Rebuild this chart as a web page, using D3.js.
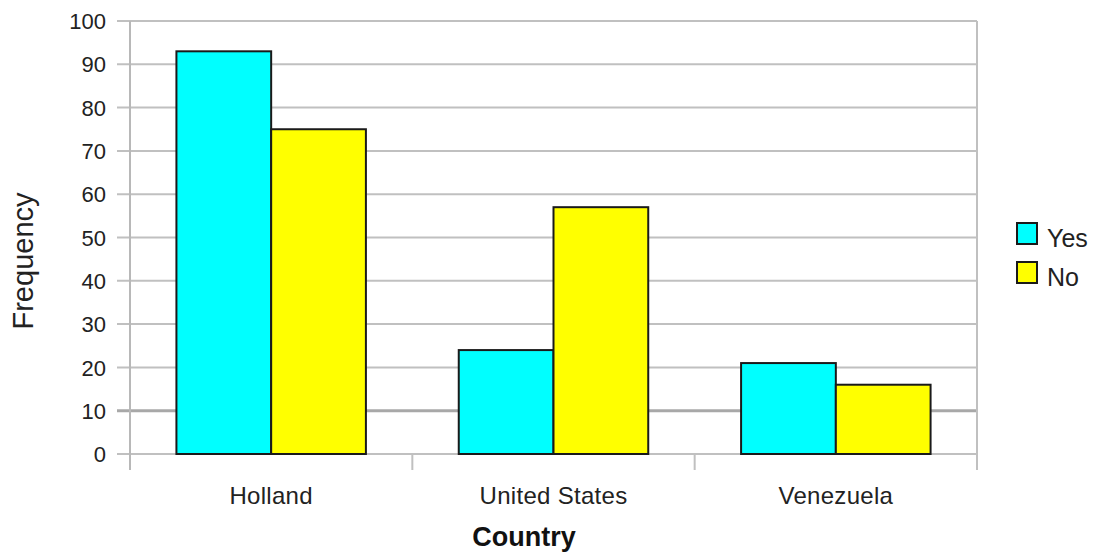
<!DOCTYPE html>
<html>
<head>
<meta charset="utf-8">
<script src="https://cdn.jsdelivr.net/npm/d3@7"></script>
<style>
  html, body { margin: 0; padding: 0; background: #fff; }
  svg { display: block; font-family: "Liberation Sans", Arial, sans-serif; }
</style>
</head>
<body>
<svg id="chart" width="1095" height="553"></svg>
<script>
const categories = ["Holland", "United States", "Venezuela"];
const seriesNames = ["Yes", "No"];
const yesValues = [93, 24, 21];
const noValues = [75, 57, 16];
const yTicks = [0, 10, 20, 30, 40, 50, 60, 70, 80, 90, 100];
const colors = ["#00ffff", "#ffff00"];

const svg = d3.select("#chart");
const plotLeft = 130, plotRight = 977, plotTop = 21, plotBottom = 454;

const x0 = d3.scaleBand().domain(categories).range([plotLeft, plotRight]).padding(0);
const x1 = d3.scaleBand().domain(seriesNames).range([0, x0.bandwidth()]).paddingInner(0).paddingOuter(0.49);
const y = d3.scaleLinear().domain([0, 100]).range([plotBottom, plotTop]);

// gridlines
svg.append("g").selectAll("line").data(yTicks).join("line")
  .attr("x1", plotLeft - 13).attr("x2", plotRight)
  .attr("y1", d => y(d)).attr("y2", d => y(d))
  .attr("stroke", d => d === 10 ? "#a8a8a8" : "#c0c0c0")
  .attr("stroke-width", d => d === 10 ? 3 : 2);

// right border
svg.append("line").attr("x1", plotRight).attr("x2", plotRight).attr("y1", plotTop).attr("y2", plotBottom + 16)
  .attr("stroke", "#c0c0c0").attr("stroke-width", 2);
// left axis
svg.append("line").attr("x1", plotLeft).attr("x2", plotLeft).attr("y1", plotTop).attr("y2", plotBottom + 16)
  .attr("stroke", "#b8b8b8").attr("stroke-width", 2);

// x category boundary ticks
const boundaries = categories.slice(1).map(c => x0(c));
svg.append("g").selectAll("line").data(boundaries).join("line")
  .attr("x1", d => d).attr("x2", d => d).attr("y1", plotBottom).attr("y2", plotBottom + 16)
  .attr("stroke", "#c0c0c0").attr("stroke-width", 2);

// y tick labels
svg.append("g").selectAll("text").data(yTicks).join("text")
  .attr("x", plotLeft - 24).attr("y", d => y(d)).attr("dy", "0.37em")
  .attr("text-anchor", "end").attr("font-size", 22).attr("fill", "#222")
  .text(d => d);

// bars
const rows = categories.map((c, i) => ({ cat: c, vals: [yesValues[i], noValues[i]] }));
const groups = svg.append("g").selectAll("g").data(rows).join("g")
  .attr("transform", d => `translate(${x0(d.cat)},0)`);
groups.selectAll("rect").data(d => d.vals.map((v, j) => ({ key: seriesNames[j], v, j })))
  .join("rect")
  .attr("x", d => x1(d.key)).attr("width", x1.bandwidth())
  .attr("y", d => y(d.v)).attr("height", d => plotBottom - y(d.v))
  .attr("fill", d => colors[d.j]).attr("stroke", "#1a1a1a").attr("stroke-width", 2);

// category labels
svg.append("g").selectAll("text").data(categories).join("text")
  .attr("x", d => x0(d) + x0.bandwidth() / 2).attr("y", 504)
  .attr("text-anchor", "middle").attr("font-size", 24).attr("letter-spacing", 0.3).attr("fill", "#222")
  .text(d => d);

// axis titles
svg.append("text").attr("x", 524).attr("y", 546).attr("text-anchor", "middle")
  .attr("font-size", 27).attr("font-weight", "bold").attr("fill", "#111").text("Country");
svg.append("text").attr("transform", "translate(33,261) rotate(-90)").attr("text-anchor", "middle")
  .attr("font-size", 29).attr("fill", "#222").text("Frequency");

// legend
const legend = svg.append("g").selectAll("g").data(seriesNames).join("g")
  .attr("transform", (d, i) => `translate(1017,${223 + i * 39})`);
legend.append("rect").attr("width", 20).attr("height", 21)
  .attr("fill", (d, i) => colors[i]).attr("stroke", "#1a1a1a").attr("stroke-width", 2);
legend.append("text").attr("x", 30).attr("y", 24)
  .attr("font-size", 25).attr("fill", "#222").text(d => d);
</script>
</body>
</html>
